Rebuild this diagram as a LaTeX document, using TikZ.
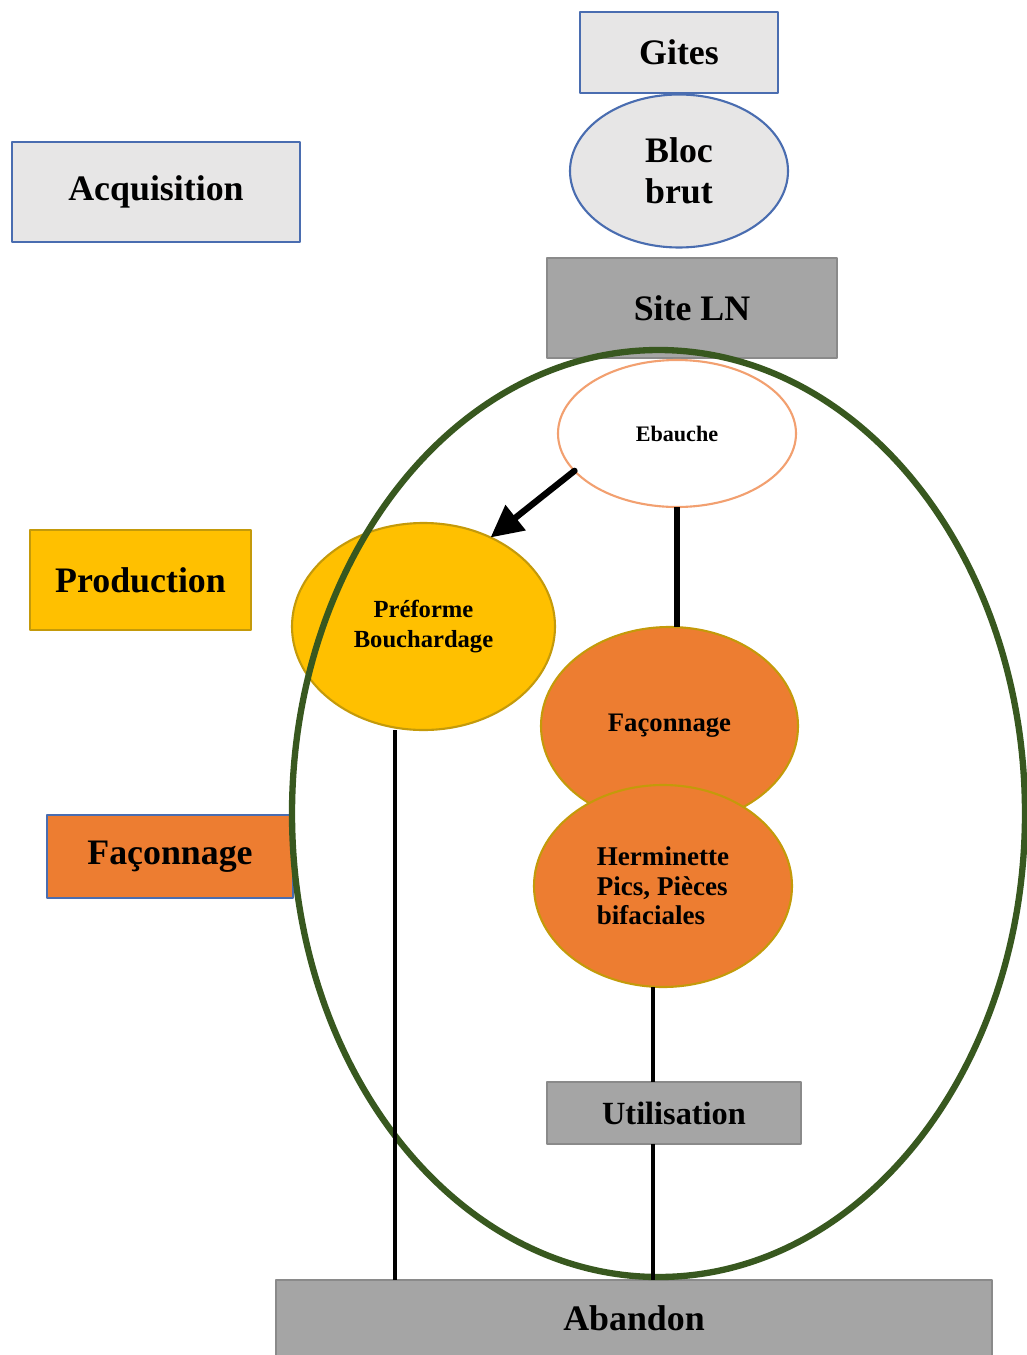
\documentclass[tikz,border=0pt]{standalone}
\usepackage{fontspec}
\setmainfont{Liberation Serif}
\usetikzlibrary{arrows.meta,positioning,shapes.geometric}
\definecolor{paleg}{HTML}{E7E6E6}
\definecolor{frameblue}{HTML}{4A6DB0}
\definecolor{midgray}{HTML}{A5A5A5}
\definecolor{edgegray}{HTML}{8A8A8A}
\definecolor{amber}{HTML}{FFC000}
\definecolor{amberedge}{HTML}{C49A0A}
\definecolor{rust}{HTML}{ED7D31}
\definecolor{peach}{HTML}{F2A070}
\definecolor{forest}{HTML}{38581F}
\newcommand{\boxtxt}{\bfseries\fontsize{10.2}{11.6}\selectfont}
\newcommand{\ovaltxt}[2]{\bfseries\fontsize{#1}{#2}\selectfont}
\tikzset{
    every picture/.style={line cap=round,line join=round},
    phasebox/.style={draw=frameblue,fill=paleg,line width=0.7pt,
      inner sep=2pt,outer sep=0pt,font=\boxtxt,align=center},
    greybox/.style={phasebox,draw=edgegray,fill=midgray},
    oval/.style={ellipse,draw,line width=0.6pt,inner sep=0pt,outer sep=0pt,
      align=center},
    zone/.style={ellipse,draw=forest,line width=1.8pt,inner sep=0pt},
    link/.style={draw=black,line width=0.9pt,line cap=butt},
    boldlink/.style={draw=black,line width=1.8pt,line cap=butt},
    flowarrow/.style={-{Triangle[length=3.2mm,width=3.1mm]},draw=black,
      line width=1.8pt}
}
\begin{document}
\begin{tikzpicture}[x=0.1mm,y=-0.1mm]
  \useasboundingbox (0,0) rectangle (1027,1355);
  \node[phasebox,minimum width=28.8mm,minimum height=10mm] (acq) at (156,192) {Acquisition};
  \node[phasebox,minimum width=19.8mm,minimum height=8.1mm] (gites) at (679,52.5) {Gites};
  \node[oval,draw=frameblue,fill=paleg,minimum width=21.8mm,minimum height=15.3mm,
    font=\boxtxt] (bloc) at (679,171) {Bloc\\brut};
  \node[greybox,minimum width=29mm,minimum height=10mm] (site) at (692,308) {Site LN};
  \node[oval,draw=peach,fill=white,minimum width=23.8mm,minimum height=14.7mm,
    font=\ovaltxt{6.3}{7}] (ebauche) at (677,433.5) {Ebauche};
  \node[phasebox,draw=amberedge,fill=amber,minimum width=22.1mm,minimum height=10mm] (prod) at (140.5,580) {Production};
  \node[oval,draw=amberedge,fill=amber,minimum width=26.3mm,minimum height=20.7mm,
    font=\ovaltxt{7}{8.5}] (preforme) at (423.5,626.5) {Préforme\\Bouchardage};
  \node[oval,draw=amberedge,fill=rust,minimum width=25.7mm,minimum height=19.8mm,
    font=\ovaltxt{7.6}{9}] (faconE) at (669.5,726) {Façonnage};
  \node[oval,draw=amberedge,fill=rust,minimum width=25.8mm,minimum height=20.2mm,
    font=\ovaltxt{7.7}{8.4},align=left] (herm) at (663,886) {Herminette\\Pics, Pièces\\bifaciales};
  \node[phasebox,fill=rust,minimum width=24.6mm,minimum height=8.3mm] (faconR) at (170,856.5) {Façonnage};
  \node[greybox,minimum width=25.4mm,minimum height=6.2mm,
    font=\ovaltxt{9.2}{11}] (util) at (674,1113) {Utilisation};
  \node[greybox,anchor=north,minimum width=71.6mm,minimum height=7.6mm] (abandon) at (634,1280) {Abandon};
  \node[zone,minimum width=73.3mm,minimum height=92.7mm] (lnzone) at (658.5,813.5) {};
  \draw[flowarrow] (ebauche.200) -- (preforme.53);
  \draw[boldlink] (ebauche.south) -- (ebauche.south |- faconE.north);
  \draw[link] ([xshift=-2.85mm]preforme.south) -- ([xshift=-2.85mm]preforme.south |- abandon.north);
  \draw[link] ([xshift=-1mm]herm.south) -- ([xshift=-1mm]herm.south |- util.north);
  \draw[link] ([xshift=-1mm]herm.south |- util.south) -- ([xshift=-1mm]herm.south |- abandon.north);
\end{tikzpicture}
\end{document}
